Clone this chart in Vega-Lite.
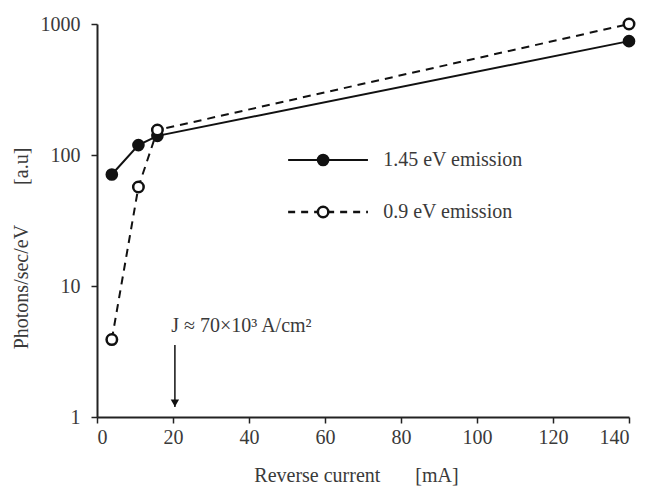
{
  "$schema": "https://vega.github.io/schema/vega-lite/v6.json",
  "width": 532,
  "height": 393,
  "autosize": "none",
  "padding": {"left": 97, "top": 24, "right": 29, "bottom": 72},
  "background": "white",
  "config": {
    "view": {"stroke": null},
    "font": "'Liberation Serif', 'Times New Roman', serif",
    "axis": {"grid": false, "domainColor": "#222", "tickColor": "#222", "labelColor": "#3a3a3a", "titleColor": "#3a3a3a", "labelFont": "'Liberation Serif', 'Times New Roman', serif", "titleFont": "'Liberation Serif', 'Times New Roman', serif", "labelFontSize": 20, "titleFontSize": 20, "titleFontWeight": "normal", "domainWidth": 2, "tickWidth": 1.5, "tickSize": 6}
  },
  "datasets": {
    "series": [
      {"current": 3.9, "photons": 71, "series": "1.45 eV emission"},
      {"current": 10.9, "photons": 119, "series": "1.45 eV emission"},
      {"current": 15.9, "photons": 140, "series": "1.45 eV emission"},
      {"current": 140, "photons": 740, "series": "1.45 eV emission"},
      {"current": 3.9, "photons": 3.9, "series": "0.9 eV emission"},
      {"current": 10.9, "photons": 57, "series": "0.9 eV emission"},
      {"current": 15.9, "photons": 155, "series": "0.9 eV emission"},
      {"current": 140, "photons": 1000, "series": "0.9 eV emission"}
    ],
    "legend": [
      {"x1": 50.3, "x2": 71.3, "xm": 59.5, "xt": 75.3, "y": 91.6, "series": "1.45 eV emission"},
      {"x1": 50.3, "x2": 71.3, "xm": 59.5, "xt": 75.3, "y": 36.7, "series": "0.9 eV emission"}
    ],
    "note": [
      {"x": 38, "y": 4.95, "label": "J ≈ 70×10³ A/cm²", "ax": 20.5, "ytop": 3.55, "ytip": 1.19}
    ]
  },
  "layer": [
    {
      "data": {"name": "series"},
      "transform": [{"filter": "datum.series === '1.45 eV emission'"}],
      "mark": {"type": "line", "color": "#111", "strokeWidth": 2},
      "encoding": {
        "x": {"field": "current", "type": "quantitative", "scale": {"domain": [0, 140], "nice": false}, "axis": {"values": [0, 20, 40, 60, 80, 100, 120, 140], "title": "Reverse current\u00a0\u00a0\u00a0\u00a0\u00a0\u00a0\u00a0[mA]", "titlePadding": 18, "labelPadding": 4, "titleX": 259}},
        "y": {"field": "photons", "type": "quantitative", "scale": {"type": "log", "domain": [1, 1000], "nice": false}, "axis": {"values": [1, 10, 100, 1000], "format": "d", "title": "Photons/sec/eV\u00a0\u00a0\u00a0\u00a0\u00a0\u00a0\u00a0\u00a0[a.u]", "titlePadding": 9, "labelPadding": 11, "titleY": 224}}
      }
    },
    {
      "data": {"name": "series"},
      "transform": [{"filter": "datum.series === '0.9 eV emission'"}],
      "mark": {"type": "line", "color": "#111", "strokeWidth": 2, "strokeDash": [8, 6]},
      "encoding": {
        "x": {"field": "current", "type": "quantitative"},
        "y": {"field": "photons", "type": "quantitative"}
      }
    },
    {
      "data": {"name": "series"},
      "transform": [{"filter": "datum.series === '1.45 eV emission'"}],
      "mark": {"type": "point", "shape": "circle", "filled": true, "color": "#111", "size": 160, "opacity": 1},
      "encoding": {
        "x": {"field": "current", "type": "quantitative"},
        "y": {"field": "photons", "type": "quantitative"}
      }
    },
    {
      "data": {"name": "series"},
      "transform": [{"filter": "datum.series === '0.9 eV emission'"}],
      "mark": {"type": "point", "shape": "circle", "filled": true, "fill": "white", "stroke": "#111", "strokeWidth": 2.5, "size": 110, "opacity": 1},
      "encoding": {
        "x": {"field": "current", "type": "quantitative"},
        "y": {"field": "photons", "type": "quantitative"}
      }
    },
    {
      "data": {"name": "legend"},
      "transform": [{"filter": "datum.series === '1.45 eV emission'"}],
      "mark": {"type": "rule", "color": "#111", "strokeWidth": 2},
      "encoding": {
        "x": {"field": "x1", "type": "quantitative"},
        "x2": {"field": "x2"},
        "y": {"field": "y", "type": "quantitative"}
      }
    },
    {
      "data": {"name": "legend"},
      "transform": [{"filter": "datum.series === '0.9 eV emission'"}],
      "mark": {"type": "rule", "color": "#111", "strokeWidth": 2.5, "strokeDash": [7, 6]},
      "encoding": {
        "x": {"field": "x1", "type": "quantitative"},
        "x2": {"field": "x2"},
        "y": {"field": "y", "type": "quantitative"}
      }
    },
    {
      "data": {"name": "legend"},
      "transform": [{"filter": "datum.series === '1.45 eV emission'"}],
      "mark": {"type": "point", "shape": "circle", "filled": true, "color": "#111", "size": 160, "opacity": 1},
      "encoding": {
        "x": {"field": "xm", "type": "quantitative"},
        "y": {"field": "y", "type": "quantitative"}
      }
    },
    {
      "data": {"name": "legend"},
      "transform": [{"filter": "datum.series === '0.9 eV emission'"}],
      "mark": {"type": "point", "shape": "circle", "filled": true, "fill": "white", "stroke": "#111", "strokeWidth": 2.5, "size": 110, "opacity": 1},
      "encoding": {
        "x": {"field": "xm", "type": "quantitative"},
        "y": {"field": "y", "type": "quantitative"}
      }
    },
    {
      "data": {"name": "legend"},
      "mark": {"type": "text", "align": "left", "baseline": "middle", "fontSize": 20, "font": "'Liberation Serif', 'Times New Roman', serif", "color": "#3a3a3a"},
      "encoding": {
        "x": {"field": "xt", "type": "quantitative"},
        "y": {"field": "y", "type": "quantitative"},
        "text": {"field": "series"}
      }
    },
    {
      "data": {"name": "note"},
      "mark": {"type": "text", "align": "center", "baseline": "middle", "fontSize": 20, "font": "'Liberation Serif', 'Times New Roman', serif", "color": "#3a3a3a"},
      "encoding": {
        "x": {"field": "x", "type": "quantitative"},
        "y": {"field": "y", "type": "quantitative"},
        "text": {"field": "label"}
      }
    },
    {
      "data": {"name": "note"},
      "mark": {"type": "rule", "color": "#111", "strokeWidth": 1.5},
      "encoding": {
        "x": {"field": "ax", "type": "quantitative"},
        "y": {"field": "ytop", "type": "quantitative"},
        "y2": {"field": "ytip"}
      }
    },
    {
      "data": {"name": "note"},
      "mark": {"type": "point", "shape": "triangle-down", "filled": true, "color": "#111", "size": 70, "opacity": 1, "yOffset": -4},
      "encoding": {
        "x": {"field": "ax", "type": "quantitative"},
        "y": {"field": "ytip", "type": "quantitative"}
      }
    }
  ]
}
